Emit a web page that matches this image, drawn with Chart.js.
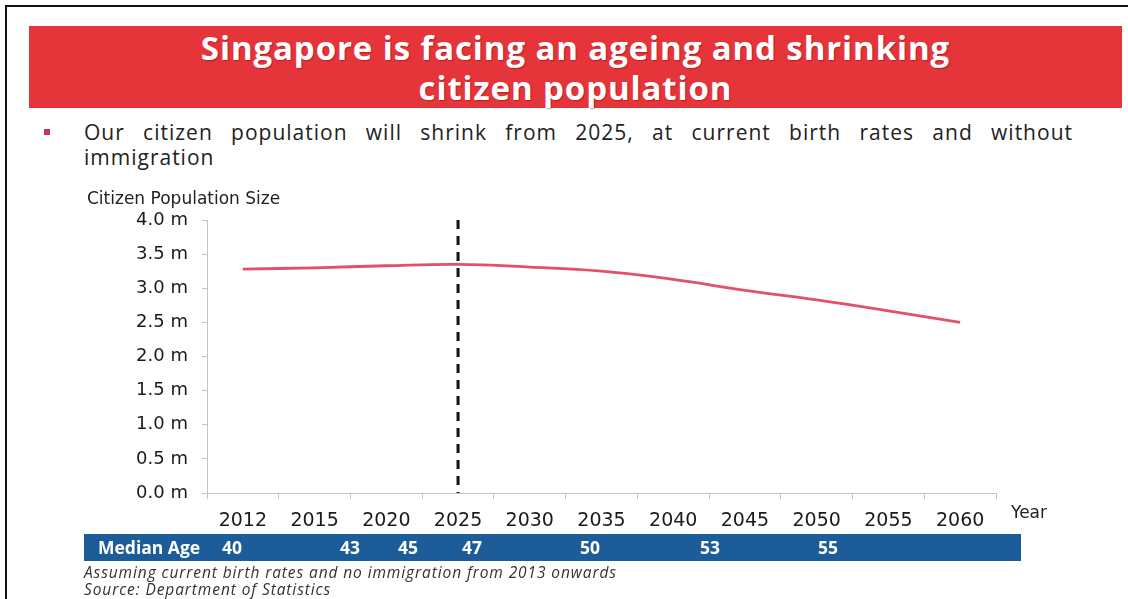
<!DOCTYPE html>
<html>
<head>
<meta charset="utf-8">
<script src="https://cdn.jsdelivr.net/npm/chart.js@4.4.1/dist/chart.umd.min.js"></script>
<style>
  html, body { margin: 0; padding: 0; background: #fff; }
  body { width: 1128px; height: 599px; position: relative; overflow: hidden; font-family: "Open Sans", sans-serif; }
  #frame-top { position: absolute; left: 5px; top: 5px; width: 1123px; height: 2px; background: #111; }
  #frame-left { position: absolute; left: 5px; top: 5px; width: 2px; height: 594px; background: #111; }
  #banner { position: absolute; left: 29px; top: 26px; width: 1093px; height: 82px; background: #e5343a; }
  #banner h1 { margin: 0; padding-top: 2px; color: #fff; text-align: center; font-size: 33px; line-height: 40px; font-weight: 700; letter-spacing: 0.9px; text-shadow: 1px 1px 1px rgba(90,0,0,0.35); }
  #bullet { position: absolute; left: 44px; top: 129px; width: 6px; height: 6px; background: #c8365a; }
  .lead { position: absolute; left: 84px; width: 989px; font-size: 21px; line-height: 25px; letter-spacing: 1px; color: #222; white-space: nowrap; }
  #lead1 { top: 120px; text-align: justify; text-align-last: justify; white-space: normal; }
  #lead2 { top: 145px; }
  #chart-wrap { position: absolute; left: 0; top: 0; width: 1128px; height: 599px; }
  .axis-title { position: absolute; font-family: "DejaVu Sans", sans-serif; font-size: 17px; color: #222; }
  #age-bar { position: absolute; left: 84px; top: 534px; width: 937px; height: 27px; background: #1c5d99; color: #fff; font-weight: 700; font-size: 17.5px; line-height: 27px; }
  #age-bar span { position: absolute; top: 0; }
  .note { position: absolute; left: 84px; font-style: italic; font-size: 15.5px; letter-spacing: 0.9px; color: #333; line-height: 17px; }
</style>
</head>
<body>
<div id="frame-top"></div>
<div id="frame-left"></div>
<div id="banner"><h1>Singapore is facing an ageing and shrinking<br>citizen population</h1></div>
<div id="bullet"></div>
<div class="lead" id="lead1">Our citizen population will shrink from 2025, at current birth rates and without</div>
<div class="lead" id="lead2">immigration</div>
<div id="chart-wrap"><canvas id="pop-chart" width="1128" height="599"></canvas></div>
<div class="axis-title" style="left:87px; top:188px;">Citizen Population Size</div>
<div class="axis-title" style="left:1011px; top:502px;">Year</div>
<div id="age-bar"><span style="left:14px;">Median Age</span></div>
<div class="note" style="top:564px;">Assuming current birth rates and no immigration from 2013 onwards</div>
<div class="note" style="top:581px;">Source: Department of Statistics</div>
<script>
// chart values
var years = ["2012", "2015", "2020", "2025", "2030", "2035", "2040", "2045", "2050", "2055", "2060"];
var citizenPopulation = [3.28, 3.30, 3.33, 3.35, 3.31, 3.25, 3.13, 2.97, 2.83, 2.67, 2.50];
var yTicks = [0, 0.5, 1, 1.5, 2, 2.5, 3, 3.5, 4];
var shrinkYear = "2025";
var medianAge = [40, 43, 45, 47, 50, 53, 55];

// where each median age sits along the blue bar (left edge, px inside bar)
var medianAgeLeft = [138, 256, 314, 378, 496, 616, 734];

window.onload = function () {

    var shrinkLine = {
        id: "shrinkLine",
        afterDatasetsDraw: function (chart) {
            var ctx = chart.ctx;
            var area = chart.chartArea;
            var x = chart.scales.x.getPixelForValue(years.indexOf(shrinkYear));
            ctx.save();
            ctx.strokeStyle = "#111";
            ctx.lineWidth = 3;
            ctx.setLineDash([9, 7]);
            ctx.beginPath();
            ctx.moveTo(x, area.top);
            ctx.lineTo(x, area.bottom);
            ctx.stroke();
            ctx.restore();
        }
    };

    putMedianAges();
    createChart();

    function putMedianAges() {
        var bar = document.getElementById("age-bar");
        for (var i = 0; i < medianAge.length; i++) {
            var span = document.createElement("span");
            span.style.left = medianAgeLeft[i] + "px";
            span.appendChild(document.createTextNode(medianAge[i]));
            bar.appendChild(span);
        }
    }

    function createChart() {
        return new Chart(document.getElementById("pop-chart"), {
            type: "line",
            data: {
                labels: years,
                datasets: [{
                    label: "Citizen Population Size",
                    data: citizenPopulation,
                    borderColor: "#e2506a",
                    borderWidth: 2.8,
                    pointRadius: 0,
                    tension: 0.4,
                    fill: false
                }]
            },
            options: {
                responsive: false,
                animation: false,
                layout: { padding: { left: 87, right: 132, top: 220, bottom: 66 } },
                plugins: { legend: { display: false }, tooltip: { enabled: false } },
                scales: {
                    x: {
                        offset: true,
                        afterFit: function (scale) { scale.height = 40; },
                        grid: { offset: true, drawOnChartArea: false, tickLength: 6, color: "#c4c4c4" },
                        border: { color: "#c4c4c4" },
                        ticks: { padding: 11, color: "#1a1a1a", font: { family: "DejaVu Sans", size: 19 }, maxRotation: 0 }
                    },
                    y: {
                        min: 0,
                        max: 4,
                        afterFit: function (scale) { scale.width = 120; },
                        afterBuildTicks: function (scale) {
                            scale.ticks = yTicks.map(function (v) { return { value: v }; });
                        },
                        grid: { drawOnChartArea: false, tickLength: 5, color: "#c4c4c4" },
                        border: { color: "#c4c4c4" },
                        ticks: {
                            padding: 14,
                            color: "#1a1a1a",
                            font: { family: "DejaVu Sans", size: 18 },
                            callback: function (v) { return v.toFixed(1) + " m"; }
                        }
                    }
                }
            },
            plugins: [shrinkLine]
        });
    }
};
</script>
</body>
</html>
